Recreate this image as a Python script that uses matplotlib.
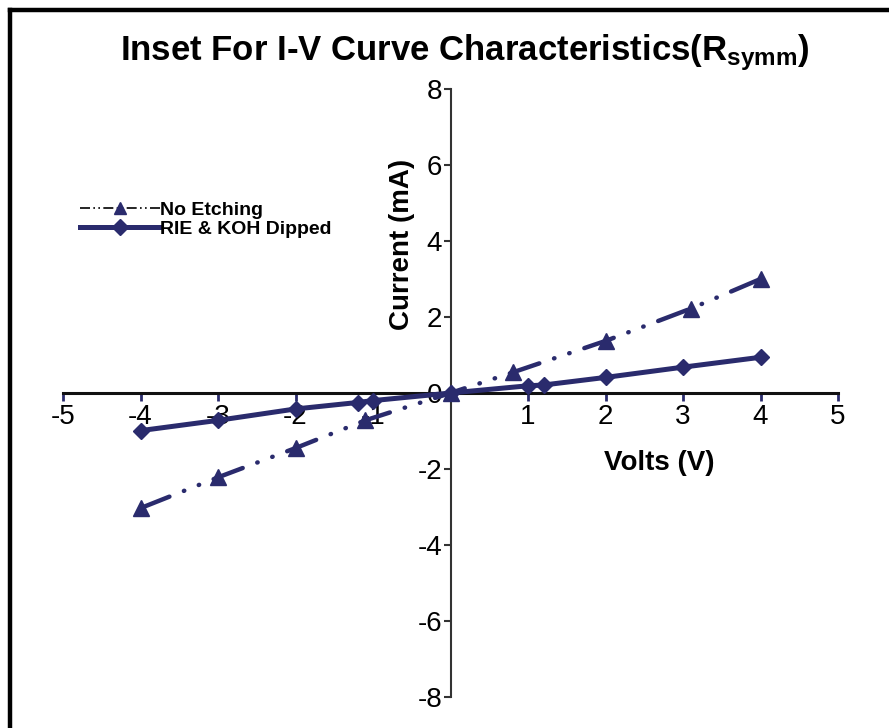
import matplotlib
matplotlib.use("Agg")
import matplotlib.pyplot as plt
from matplotlib.lines import Line2D

# I-V data read from the measurement sweep
volts_no_etch = [-4, -3, -2, -1.1, 0, 0.8, 2, 3.1, 4]
current_no_etch = [-3.03, -2.22, -1.45, -0.72, 0, 0.54, 1.37, 2.22, 3.0]

volts_rie = [-4, -3, -2, -1.2, -1, 0, 1, 1.2, 2, 3, 4]
current_rie = [-0.99, -0.72, -0.42, -0.25, -0.2, 0, 0.19, 0.21, 0.41, 0.68, 0.94]

x_ticks = [-5, -4, -3, -2, -1, 1, 2, 3, 4, 5]
y_ticks = [-8, -6, -4, -2, 0, 2, 4, 6, 8]

navy = '#2a2b6d'
plt.rcParams['font.family'] = ['Liberation Sans', 'DejaVu Sans']
plt.rcParams['mathtext.default'] = 'regular'

fig = plt.figure(figsize=(8.89, 7.28), dpi=100)
ax = fig.add_axes([63 / 889, 1 - 697 / 728, 775 / 889, 608 / 728])

ax.plot(volts_no_etch, current_no_etch, color=navy, lw=3.2,
        linestyle=(0, (7, 3.5, 0.1, 3.5, 0.1, 3.5)), dash_capstyle='round',
        marker='^', markersize=11, zorder=3)
ax.plot(volts_rie, current_rie, color=navy, lw=3.6, marker='D',
        markersize=8, zorder=4)

ax.set_xlim(-5, 5)
ax.set_ylim(-8, 8)
ax.spines['left'].set_position('zero')
ax.spines['bottom'].set_position('zero')
ax.spines['top'].set_visible(False)
ax.spines['right'].set_visible(False)
ax.spines['bottom'].set_linewidth(2.2)
ax.spines['bottom'].set_color('#111111')
ax.spines['left'].set_linewidth(1.5)
ax.spines['left'].set_color('#333333')

ax.set_xticks(x_ticks)
ax.set_xticklabels([str(v) for v in x_ticks])
ax.set_yticks(y_ticks)
ax.set_yticklabels([str(v) for v in y_ticks])
ax.tick_params(axis='x', direction='out', length=6, width=2, color=navy,
               labelsize=20, pad=2)
ax.tick_params(axis='y', direction='out', length=5, width=1.5, color='#333333',
               labelsize=20, pad=1)

ax.text(-0.63, 3.9, 'Current (mA)', rotation=90, fontsize=20, fontweight='bold',
        ha='center', va='center')
ax.text(2.7, -1.85, 'Volts (V)', fontsize=20, fontweight='bold',
        ha='center', va='center')

handles = [
    Line2D([], [], color='black', lw=1.2, linestyle=(0, (6, 2, 1, 2, 1, 2)),
           marker='^', markersize=8, markerfacecolor=navy, markeredgecolor=navy),
    Line2D([], [], color=navy, lw=3.6, marker='D', markersize=8),
]
ax.legend(handles, ['No Etching', 'RIE & KOH Dipped'], loc='upper left',
          bbox_to_anchor=(0.012, 0.828), frameon=False, handlelength=4.1,
          handletextpad=0.0, labelspacing=0.05, borderaxespad=0,
          prop={'weight': 'bold', 'size': 14})

fig.text(0.523, 0.928, 'Inset For I-V Curve Characteristics(R$_{symm}$)',
         fontsize=25, fontweight='bold', ha='center', va='center')

# page border on the left and top
fig.add_artist(Line2D([10 / 889, 10 / 889], [0, 1 - 10 / 728], color='black',
                      lw=3.2, transform=fig.transFigure, solid_capstyle='projecting'))
fig.add_artist(Line2D([10 / 889, 1], [1 - 10 / 728, 1 - 10 / 728], color='black',
                      lw=3.2, transform=fig.transFigure, solid_capstyle='projecting'))

fig.savefig('out.png', dpi=100)
